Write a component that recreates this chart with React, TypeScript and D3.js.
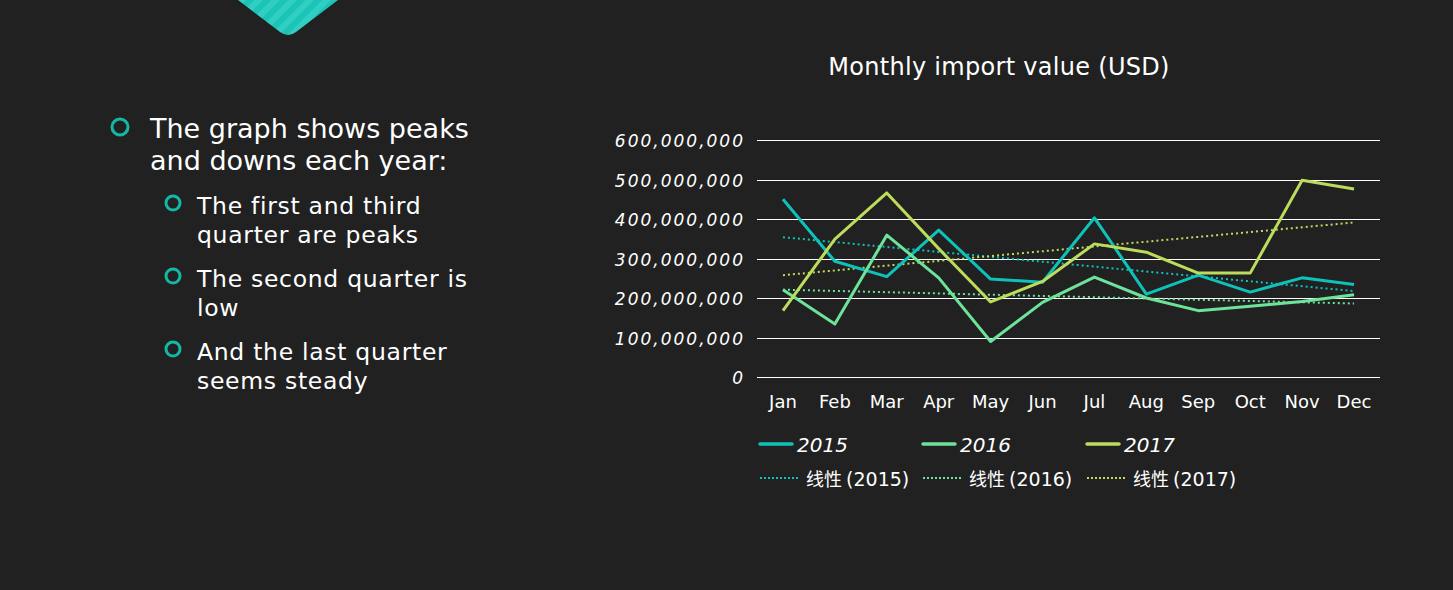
import React from 'react';
import * as d3 from 'd3';

const months = ['Jan', 'Feb', 'Mar', 'Apr', 'May', 'Jun', 'Jul', 'Aug', 'Sep', 'Oct', 'Nov', 'Dec'];
const years = ['2015', '2016', '2017'];
// monthly import value, USD
const values2015 = [450e6, 293e6, 254e6, 372e6, 248e6, 240e6, 403e6, 210e6, 258e6, 215e6, 251e6, 234e6];
const values2016 = [221e6, 134e6, 359e6, 251e6, 90e6, 189e6, 253e6, 200e6, 168e6, 179e6, 191e6, 208e6];
const values2017 = [168e6, 349e6, 466e6, 325e6, 190e6, 242e6, 337e6, 316e6, 263e6, 263e6, 498e6, 476e6];
const yTicks = [0, 100e6, 200e6, 300e6, 400e6, 500e6, 600e6];
const colors = ['#0ec2b9', '#6de39a', '#bcdc5c'];

const bullets = [
  { level: 0, lines: ['The graph shows peaks', 'and downs each year:'] },
  { level: 1, lines: ['The first and third', 'quarter are peaks'] },
  { level: 1, lines: ['The second quarter is', 'low'] },
  { level: 1, lines: ['And the last quarter', 'seems steady'] },
];

const FONT = '"DejaVu Sans", sans-serif';

// least squares trend, like the "线性" trendline in the original
function linearTrend(vals: number[]) {
  const n = vals.length;
  const mx = (n - 1) / 2;
  const my = d3.mean(vals) || 0;
  let sxy = 0, sxx = 0;
  vals.forEach((v, i) => { sxy += (i - mx) * (v - my); sxx += (i - mx) ** 2; });
  const slope = sxy / sxx;
  return vals.map((_, i) => my + slope * (i - mx));
}

const App: React.FC = () => {
  const W = 1453, H = 590;
  const plot = { left: 757, right: 1380, top: 140, bottom: 377 };

  const x = d3.scaleBand<string>().domain(months).range([plot.left, plot.right]);
  const cx = (m: string) => (x(m) || 0) + x.bandwidth() / 2;
  const y = d3.scaleLinear().domain([0, 600e6]).range([plot.bottom, plot.top]);
  const fmt = d3.format(',');

  const series = [values2015, values2016, values2017];
  const line = d3.line<number>().x((_, i) => cx(months[i])).y(d => y(d));

  // bullet layout
  let cursor = 138;
  const bulletRows = bullets.map((b, i) => {
    const size = b.level === 0 ? 27 : 23.5;
    const lh = b.level === 0 ? 32 : 29;
    if (i === 1) cursor = 214;
    else if (i > 1) cursor += 15;
    const start = cursor;
    cursor += lh * b.lines.length;
    return { ...b, size, lh, start };
  });

  const legendX = [760, 923, 1087];

  return (
    <svg width={W} height={H} style={{ position: 'fixed', left: 0, top: 0, background: '#212121' }}>
      <defs>
        <pattern id="stripes" width="12" height="12" patternUnits="userSpaceOnUse" patternTransform="rotate(45)">
          <rect width="12" height="12" fill="#1bc4b6" />
          <rect width="6" height="12" fill="#2fd0c3" />
        </pattern>
      </defs>
      <rect width={W} height={H} fill="#212121" />
      {/* decorative chevron at top */}
      <path d="M238,0 L280,32 Q288,38 296,32 L338,0 Z" fill="url(#stripes)" />

      {/* bullet text */}
      {bulletRows.map((b, i) => {
        const tx = b.level === 0 ? 150 : 197;
        const bx = b.level === 0 ? 120 : 173;
        return (
          <g key={i}>
            <circle cx={bx} cy={b.start - 11} r={b.level === 0 ? 8 : 7} fill="none" stroke="#14b8a6" strokeWidth={3} />
            {b.lines.map((l, j) => (
              <text key={j} x={tx} y={b.start + j * b.lh} fill="#fff" fontFamily={FONT} fontSize={b.size}
                letterSpacing={b.level === 0 ? 0 : 0.7}>{l}</text>
            ))}
          </g>
        );
      })}

      {/* title */}
      <text x={999} y={75} textAnchor="middle" fill="#fff" fontFamily={FONT} fontSize={24} letterSpacing={0.3}>Monthly import value (USD)</text>

      {/* grid + y labels */}
      {yTicks.map(t => {
        const yy = Math.round(y(t)) + 0.5;
        return (
          <g key={t}>
            <line x1={plot.left} x2={plot.right} y1={yy} y2={yy} stroke="#fff" strokeWidth={1.2} />
            <text x={745} y={yy + 6} textAnchor="end" fill="#fff" fontFamily={FONT} fontSize={17} fontStyle="italic" letterSpacing={2}>{fmt(t)}</text>
          </g>
        );
      })}

      {/* x labels */}
      {months.map(m => (
        <text key={m} x={cx(m)} y={408} textAnchor="middle" fill="#fff" fontFamily={FONT} fontSize={18}>{m}</text>
      ))}

      {/* trend lines */}
      {series.map((s, i) => (
        <path key={'t' + i} d={line(linearTrend(s)) || ''} fill="none" stroke={colors[i]} strokeWidth={2} strokeDasharray="2,3" />
      ))}
      {/* series */}
      {series.map((s, i) => (
        <path key={'s' + i} d={line(s) || ''} fill="none" stroke={colors[i]} strokeWidth={3} strokeLinejoin="round" />
      ))}

      {/* legend */}
      {years.map((yr, i) => (
        <g key={yr}>
          <line x1={legendX[i]} x2={legendX[i] + 32} y1={444} y2={444} stroke={colors[i]} strokeWidth={3.5} strokeLinecap="round" />
          <text x={legendX[i] + 37} y={452} fill="#fff" fontFamily={FONT} fontSize={20} fontStyle="italic">{yr}</text>
          <line x1={legendX[i]} x2={legendX[i] + 40} y1={478} y2={478} stroke={colors[i]} strokeWidth={2} strokeDasharray="2,2" />
          <text x={legendX[i] + 46} y={486} fill="#fff" fontFamily={'"Noto Sans CJK SC", ' + FONT} fontSize={18}>
            线性 <tspan fontFamily={FONT} fontSize={19}>({yr})</tspan>
          </text>
        </g>
      ))}
    </svg>
  );
};

export default App;
